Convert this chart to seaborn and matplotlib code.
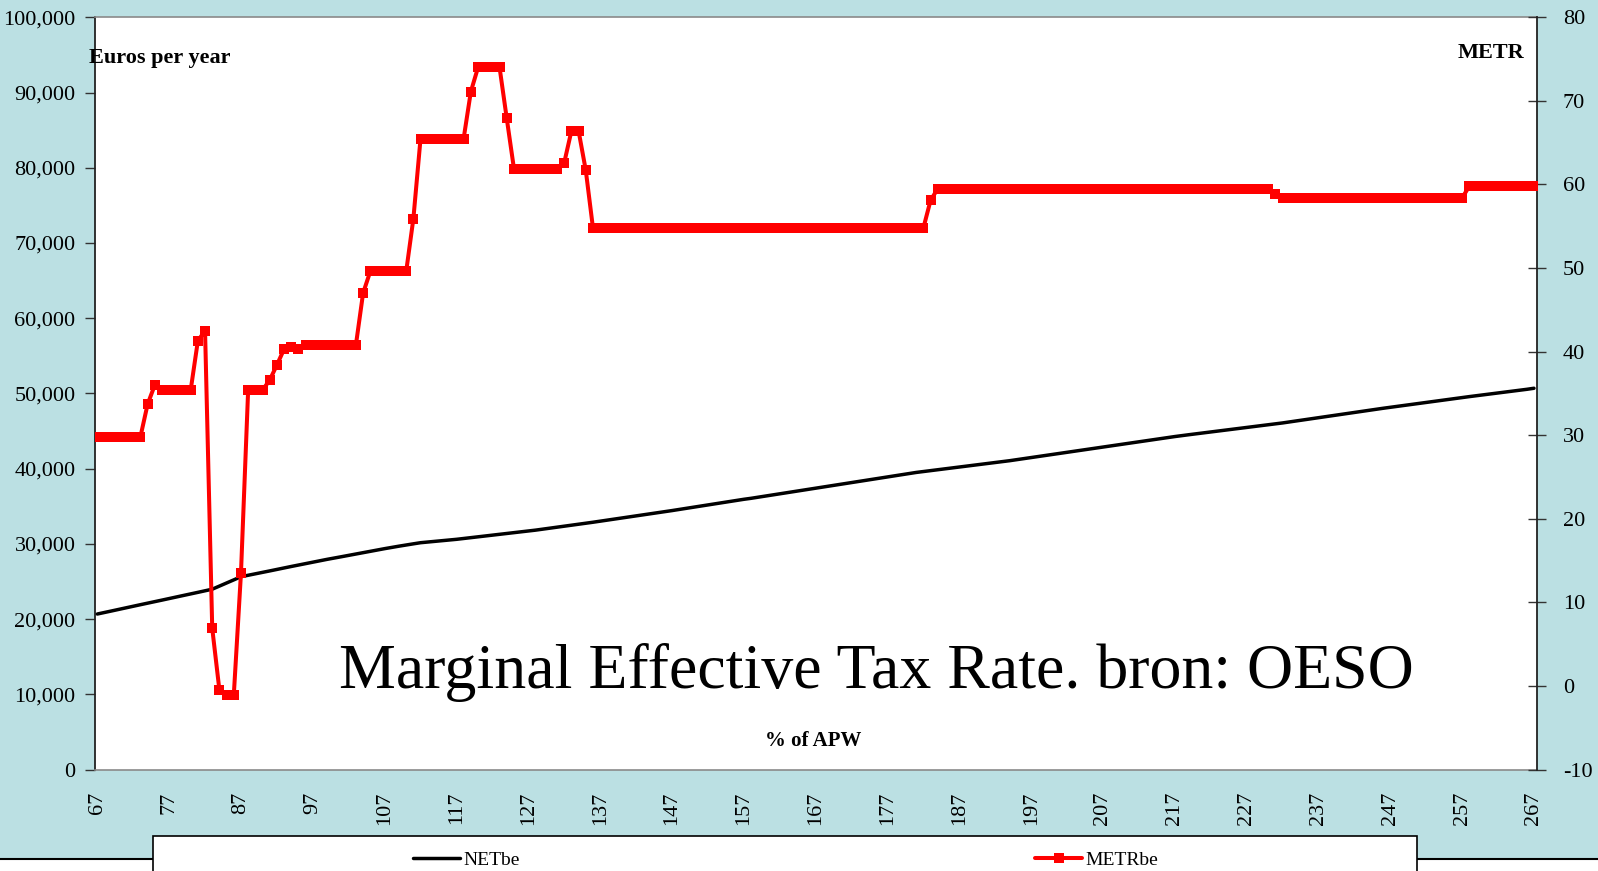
import matplotlib
matplotlib.use("Agg")
import matplotlib.pyplot as plt
from matplotlib.lines import Line2D
from matplotlib.patches import Rectangle
from matplotlib.ticker import FuncFormatter, MultipleLocator
import seaborn as sns
import pandas as pd

# Income level as % of APW (average production worker wage)
APW = list(range(67, 268))

# Net income, euros per year
NETBE = [
    20680, 20880, 21090, 21300, 21500, 21710, 21920, 22120, 22330, 22530,
    22740, 22940, 23150, 23350, 23560, 23770, 23980, 24390, 24810, 25220,
    25640, 25830, 26030, 26220, 26410, 26610, 26800, 27000, 27190, 27380,
    27580, 27770, 27950, 28120, 28300, 28480, 28660, 28840, 29010, 29190,
    29370, 29540, 29700, 29860, 30010, 30160, 30250, 30340, 30430, 30520,
    30610, 30720, 30830, 30940, 31050, 31160, 31270, 31380, 31490, 31600,
    31700, 31830, 31960, 32090, 32220, 32350, 32480, 32610, 32740, 32880,
    33020, 33160, 33300, 33440, 33580, 33720, 33860, 34000, 34140, 34280,
    34430, 34580, 34730, 34880, 35030, 35180, 35330, 35480, 35630, 35780,
    35930, 36060, 36210, 36360, 36510, 36660, 36810, 36960, 37110, 37260,
    37400, 37550, 37700, 37850, 38000, 38150, 38300, 38450, 38600, 38750,
    38900, 39050, 39200, 39350, 39500, 39620, 39740, 39860, 39980, 40100,
    40220, 40340, 40460, 40580, 40700, 40820, 40940, 41060, 41200, 41340,
    41480, 41620, 41760, 41900, 42040, 42180, 42320, 42460, 42600, 42740,
    42880, 43020, 43160, 43300, 43440, 43580, 43720, 43860, 44000, 44140,
    44270, 44400, 44520, 44640, 44760, 44880, 45000, 45120, 45240, 45360,
    45480, 45600, 45720, 45840, 45960, 46080, 46220, 46360, 46500, 46640,
    46780, 46920, 47060, 47200, 47340, 47480, 47620, 47760, 47900, 48030,
    48160, 48290, 48420, 48550, 48680, 48810, 48940, 49070, 49200, 49330,
    49460, 49580, 49700, 49820, 49940, 50060, 50180, 50300, 50420, 50550,
    50690,
]

# Marginal effective tax rate, %
METRBE = [
    29.8, 29.8, 29.8, 29.8, 29.8, 29.8, 29.8, 33.7, 36.0, 35.4,          # 67-76
    35.4, 35.4, 35.4, 35.4, 41.3, 42.5, 6.9, -0.5, -1.1, -1.1,           # 77-86
    13.5, 35.4, 35.4, 35.4, 36.6, 38.4, 40.3, 40.6, 40.3, 40.8,          # 87-96
    40.8, 40.8, 40.8, 40.8, 40.8, 40.8, 40.8, 47.0, 49.6, 49.6,          # 97-106
    49.6, 49.6, 49.6, 49.6, 55.9, 65.5, 65.5, 65.5, 65.5, 65.5,          # 107-116
    65.5, 65.5, 71.1, 74.0, 74.0, 74.0, 74.0, 67.9, 61.9, 61.9,          # 117-126
    61.9, 61.9, 61.9, 61.9, 61.9, 62.6, 66.4, 66.4, 61.7, 54.8,          # 127-136
    54.8, 54.8, 54.8, 54.8, 54.8, 54.8, 54.8, 54.8, 54.8, 54.8,          # 137-146
    54.8, 54.8, 54.8, 54.8, 54.8, 54.8, 54.8, 54.8, 54.8, 54.8,          # 147-156
    54.8, 54.8, 54.8, 54.8, 54.8, 54.8, 54.8, 54.8, 54.8, 54.8,          # 157-166
    54.8, 54.8, 54.8, 54.8, 54.8, 54.8, 54.8, 54.8, 54.8, 54.8,          # 167-176
    54.8, 54.8, 54.8, 54.8, 54.8, 54.8, 58.1, 59.5, 59.5, 59.5,          # 177-186
    59.5, 59.5, 59.5, 59.5, 59.5, 59.5, 59.5, 59.5, 59.5, 59.5,          # 187-196
    59.5, 59.5, 59.5, 59.5, 59.5, 59.5, 59.5, 59.5, 59.5, 59.5,          # 197-206
    59.5, 59.5, 59.5, 59.5, 59.5, 59.5, 59.5, 59.5, 59.5, 59.5,          # 207-216
    59.5, 59.5, 59.5, 59.5, 59.5, 59.5, 59.5, 59.5, 59.5, 59.5,          # 217-226
    59.5, 59.5, 59.5, 59.5, 58.9, 58.4, 58.4, 58.4, 58.4, 58.4,          # 227-236
    58.4, 58.4, 58.4, 58.4, 58.4, 58.4, 58.4, 58.4, 58.4, 58.4,          # 237-246
    58.4, 58.4, 58.4, 58.4, 58.4, 58.4, 58.4, 58.4, 58.4, 58.4,          # 247-256
    58.4, 59.8, 59.8, 59.8, 59.8, 59.8, 59.8, 59.8, 59.8, 59.8,          # 257-266
    59.8,                                                                # 267
]

APW_TICKS = [67, 77, 87, 97, 107, 117, 127, 137, 147, 157, 167,
             177, 187, 197, 207, 217, 227, 237, 247, 257, 267]
SERIES_NAMES = ["NETbe", "METRbe"]
TITLE = "Marginal Effective Tax Rate. bron: OESO"

BG = "#BBE0E3"
SERIF = ["Liberation Serif", "DejaVu Serif"]

sns.set_style("white")
plt.rcParams["font.family"] = SERIF
plt.rcParams["text.color"] = "black"

df = pd.DataFrame({"apw": APW, "net": NETBE, "metr": METRBE})

W, H = 1598, 871
fig = plt.figure(figsize=(W / 100, H / 100), dpi=100)
fig.patch.set_facecolor("white")

# chart area background and its bottom border
fig.patches.append(Rectangle((0, 12 / H), 1, 1 - 12 / H, transform=fig.transFigure,
                             facecolor=BG, edgecolor="none", zorder=-2))
fig.lines.append(Line2D([0, 1], [12 / H, 12 / H], transform=fig.transFigure,
                        color="black", lw=1.5, zorder=-1))
# legend panel
fig.patches.append(Rectangle((153 / W, -0.05), (1417 - 153) / W, 35 / H + 0.05,
                             transform=fig.transFigure, facecolor="white",
                             edgecolor="black", lw=1.2, zorder=2))

left, right, top, bottom = 95, 1537, 17.3, 769.6
ax = fig.add_axes([left / W, 1 - bottom / H, (right - left) / W, (bottom - top) / H])
ax.set_facecolor("white")
ax2 = ax.twinx()

sns.lineplot(data=df, x="apw", y="net", ax=ax, color="black", lw=2.5, zorder=3)
sns.lineplot(data=df, x="apw", y="metr", ax=ax2, color="#FF0000", lw=2.9,
             marker="s", markersize=7, markeredgewidth=0, zorder=4)

ax.set_xlim(66.68, 267.42)
ax.set_ylim(0, 100000)
ax2.set_ylim(-10, 80)

ax.yaxis.set_major_locator(MultipleLocator(10000))
ax.yaxis.set_major_formatter(FuncFormatter(lambda v, p: f"{int(v):,}"))
ax2.yaxis.set_major_locator(MultipleLocator(10))
ax2.yaxis.set_major_formatter(FuncFormatter(lambda v, p: f"{int(v)}"))

ax.set_xticks(APW_TICKS)
ax.set_xticklabels([str(t) for t in APW_TICKS], rotation=90, va="top", ha="center")

for a in (ax, ax2):
    a.set_xlabel("")
    a.set_ylabel("")

tick_fs = 16
ax.tick_params(axis="y", direction="out", length=7, width=1, color="#333333",
               pad=7, labelsize=tick_fs, labelcolor="black")
ax.tick_params(axis="x", length=0, pad=16, labelsize=tick_fs, labelcolor="black")
ax2.tick_params(axis="y", direction="inout", length=13, width=1, color="#333333",
                pad=12, labelsize=tick_fs, labelcolor="black")

for name in ("top", "bottom"):
    ax.spines[name].set_color("#8a8a8a")
    ax.spines[name].set_linewidth(1.2)
    ax2.spines[name].set_visible(False)
ax.spines["left"].set_color("#222222")
ax.spines["left"].set_linewidth(1.3)
ax.spines["right"].set_visible(False)
ax2.spines["left"].set_visible(False)
ax2.spines["right"].set_color("#222222")
ax2.spines["right"].set_linewidth(1.3)

# axis captions and title
fig.text(89 / W, 1 - 63.5 / H, "Euros per year", ha="left", va="baseline",
         fontsize=16, fontweight="bold", color="black", zorder=5)
fig.text(1524 / W, 1 - 57.5 / H, "METR", ha="right", va="baseline",
         fontsize=16, fontweight="bold", color="black", zorder=5)
fig.text(813 / W, 1 - 746 / H, "% of APW", ha="center", va="baseline",
         fontsize=15, fontweight="bold", color="black", zorder=5)
fig.text(876 / W, 1 - 688 / H, TITLE, ha="center", va="baseline",
         fontsize=46, color="black", zorder=5)

handles = [
    Line2D([], [], color="black", lw=2.5),
    Line2D([], [], color="#FF0000", lw=2.9, marker="s", markersize=7,
           markeredgewidth=0, markevery=[0]),
]
leg = fig.legend(handles, SERIES_NAMES, loc="center left",
                 bbox_to_anchor=(413 / W, 1 - 860 / H), ncol=2, frameon=False,
                 fontsize=14, handlelength=2.4, handletextpad=0.2,
                 columnspacing=26.5, borderpad=0, borderaxespad=0,
                 labelcolor="black")
leg.set_zorder(6)

fig.savefig("out.png", dpi=100, facecolor=fig.get_facecolor())
